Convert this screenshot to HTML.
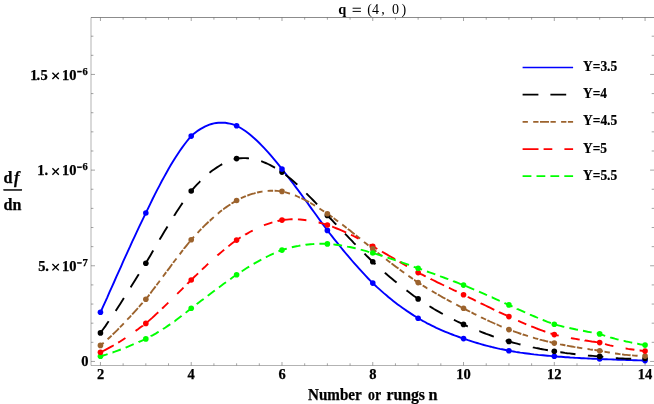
<!DOCTYPE html>
<html><head><meta charset="utf-8"><title>chart</title>
<style>html,body{margin:0;padding:0;background:#fff;width:654px;height:404px;overflow:hidden;font-family:"Liberation Serif",serif}</style></head>
<body>
<svg width="654" height="404" viewBox="0 0 654 404" style="position:absolute;left:0;top:0;will-change:transform">
<rect width="654" height="404" fill="#fff"/>
<g stroke="#666" fill="none">
<path d="M91.0,17.5 H654.6" stroke-width="0.75"/><path d="M91.0,365.5 H654.6 M91.0,17.5 V365.5 M654.6,17.5 V365.5" stroke-width="0.5"/>
<path d="M100.45,365.5 v-3.5 M100.45,17.5 v3.5 M123.14,365.5 v-2.2 M123.14,17.5 v2.2 M145.84,365.5 v-2.2 M145.84,17.5 v2.2 M168.53,365.5 v-2.2 M168.53,17.5 v2.2 M191.22,365.5 v-3.5 M191.22,17.5 v3.5 M213.91,365.5 v-2.2 M213.91,17.5 v2.2 M236.61,365.5 v-2.2 M236.61,17.5 v2.2 M259.30,365.5 v-2.2 M259.30,17.5 v2.2 M281.99,365.5 v-3.5 M281.99,17.5 v3.5 M304.68,365.5 v-2.2 M304.68,17.5 v2.2 M327.38,365.5 v-2.2 M327.38,17.5 v2.2 M350.07,365.5 v-2.2 M350.07,17.5 v2.2 M372.76,365.5 v-3.5 M372.76,17.5 v3.5 M395.45,365.5 v-2.2 M395.45,17.5 v2.2 M418.14,365.5 v-2.2 M418.14,17.5 v2.2 M440.84,365.5 v-2.2 M440.84,17.5 v2.2 M463.53,365.5 v-3.5 M463.53,17.5 v3.5 M486.22,365.5 v-2.2 M486.22,17.5 v2.2 M508.91,365.5 v-2.2 M508.91,17.5 v2.2 M531.61,365.5 v-2.2 M531.61,17.5 v2.2 M554.30,365.5 v-3.5 M554.30,17.5 v3.5 M576.99,365.5 v-2.2 M576.99,17.5 v2.2 M599.68,365.5 v-2.2 M599.68,17.5 v2.2 M622.38,365.5 v-2.2 M622.38,17.5 v2.2 M645.07,365.5 v-3.5 M645.07,17.5 v3.5 M91.0,361.45 h4 M654.6,361.45 h-4.5 M91.0,342.32 h2.4 M654.6,342.32 h-2.9 M91.0,323.18 h2.4 M654.6,323.18 h-2.9 M91.0,304.05 h2.4 M654.6,304.05 h-2.9 M91.0,284.92 h2.4 M654.6,284.92 h-2.9 M91.0,265.78 h4 M654.6,265.78 h-4.5 M91.0,246.65 h2.4 M654.6,246.65 h-2.9 M91.0,227.52 h2.4 M654.6,227.52 h-2.9 M91.0,208.39 h2.4 M654.6,208.39 h-2.9 M91.0,189.25 h2.4 M654.6,189.25 h-2.9 M91.0,170.12 h4 M654.6,170.12 h-4.5 M91.0,150.99 h2.4 M654.6,150.99 h-2.9 M91.0,131.85 h2.4 M654.6,131.85 h-2.9 M91.0,112.72 h2.4 M654.6,112.72 h-2.9 M91.0,93.59 h2.4 M654.6,93.59 h-2.9 M91.0,74.45 h4 M654.6,74.45 h-4.5 M91.0,55.32 h2.4 M654.6,55.32 h-2.9 M91.0,36.19 h2.4 M654.6,36.19 h-2.9" stroke-width="0.6"/>
</g>
<g fill="none" stroke-width="1.9">
<path d="M100.5,312.3 L102.7,307.3 L105.0,302.3 L107.3,297.3 L109.5,292.2 L111.8,287.1 L114.1,282.0 L116.3,276.9 L118.6,271.9 L120.9,266.8 L123.1,261.7 L125.4,256.7 L127.7,251.6 L130.0,246.7 L132.2,241.7 L134.5,236.8 L136.8,231.9 L139.0,227.1 L141.3,222.3 L143.6,217.6 L145.8,213.0 L148.1,208.3 L150.4,203.6 L152.6,199.0 L154.9,194.4 L157.2,189.9 L159.5,185.6 L161.7,181.3 L164.0,177.1 L166.3,173.0 L168.5,169.0 L170.8,165.1 L173.1,161.3 L175.3,157.7 L177.6,154.2 L179.9,150.8 L182.1,147.6 L184.4,144.5 L186.7,141.5 L189.0,138.7 L191.2,136.1 L193.5,134.1 L195.8,132.3 L198.0,130.6 L200.3,129.1 L202.6,127.8 L204.8,126.6 L207.1,125.6 L209.4,124.7 L211.6,124.0 L213.9,123.4 L216.2,123.0 L218.5,122.8 L220.7,122.6 L223.0,122.7 L225.3,122.8 L227.5,123.2 L229.8,123.6 L232.1,124.2 L234.3,124.9 L236.6,125.8 L238.9,127.0 L241.1,128.3 L243.4,129.7 L245.7,131.3 L248.0,133.0 L250.2,134.8 L252.5,136.7 L254.8,138.7 L257.0,140.8 L259.3,143.0 L261.6,145.3 L263.8,147.6 L266.1,150.1 L268.4,152.6 L270.6,155.2 L272.9,157.9 L275.2,160.6 L277.5,163.4 L279.7,166.2 L282.0,169.1 L284.3,172.0 L286.5,174.9 L288.8,177.8 L291.1,180.8 L293.3,183.8 L295.6,186.8 L297.9,189.9 L300.1,192.9 L302.4,196.0 L304.7,199.2 L307.0,202.3 L309.2,205.4 L311.5,208.6 L313.8,211.7 L316.0,214.8 L318.3,218.0 L320.6,221.1 L322.8,224.2 L325.1,227.3 L327.4,230.4 L329.6,233.3 L331.9,236.2 L334.2,239.1 L336.5,241.9 L338.7,244.7 L341.0,247.5 L343.3,250.3 L345.5,253.0 L347.8,255.7 L350.1,258.4 L352.3,261.0 L354.6,263.6 L356.9,266.2 L359.1,268.7 L361.4,271.2 L363.7,273.7 L366.0,276.1 L368.2,278.5 L370.5,280.8 L372.8,283.1 L375.0,285.2 L377.3,287.4 L379.6,289.4 L381.8,291.4 L384.1,293.4 L386.4,295.3 L388.6,297.2 L390.9,299.1 L393.2,300.9 L395.5,302.7 L397.7,304.4 L400.0,306.1 L402.3,307.7 L404.5,309.3 L406.8,310.9 L409.1,312.4 L411.3,313.9 L413.6,315.4 L415.9,316.8 L418.1,318.2 L420.4,319.5 L422.7,320.8 L425.0,322.0 L427.2,323.3 L429.5,324.4 L431.8,325.6 L434.0,326.7 L436.3,327.8 L438.6,328.8 L440.8,329.8 L443.1,330.8 L445.4,331.8 L447.6,332.7 L449.9,333.6 L452.2,334.5 L454.5,335.4 L456.7,336.2 L459.0,337.0 L461.3,337.8 L463.5,338.6 L465.8,339.4 L468.1,340.2 L470.3,340.9 L472.6,341.6 L474.9,342.3 L477.1,343.0 L479.4,343.7 L481.7,344.3 L484.0,345.0 L486.2,345.6 L488.5,346.2 L490.8,346.7 L493.0,347.3 L495.3,347.8 L497.6,348.4 L499.8,348.9 L502.1,349.3 L504.4,349.8 L506.6,350.3 L508.9,350.7 L511.2,351.1 L513.5,351.5 L515.7,351.9 L518.0,352.2 L520.3,352.6 L522.5,352.9 L524.8,353.2 L527.1,353.5 L529.3,353.8 L531.6,354.1 L533.9,354.4 L536.1,354.6 L538.4,354.9 L540.7,355.1 L543.0,355.3 L545.2,355.5 L547.5,355.7 L549.8,355.9 L552.0,356.1 L554.3,356.3 L556.6,356.5 L558.8,356.7 L561.1,356.8 L563.4,357.0 L565.6,357.2 L567.9,357.3 L570.2,357.5 L572.5,357.6 L574.7,357.8 L577.0,357.9 L579.3,358.0 L581.5,358.2 L583.8,358.3 L586.1,358.4 L588.3,358.5 L590.6,358.6 L592.9,358.7 L595.1,358.8 L597.4,358.9 L599.7,359.0 L602.0,359.1 L604.2,359.2 L606.5,359.3 L608.8,359.4 L611.0,359.4 L613.3,359.5 L615.6,359.6 L617.8,359.7 L620.1,359.7 L622.4,359.8 L624.6,359.9 L626.9,360.0 L629.2,360.1 L631.5,360.1 L633.7,360.2 L636.0,360.3 L638.3,360.4 L640.5,360.4 L642.8,360.5 L645.1,360.6" stroke="#0000ff"/>
<path d="M100.5,332.9 L100.8,332.4 L103.1,329.3 L105.4,326.1 L107.6,322.8 L108.7,321.3 M115.6,310.9 L116.0,310.4 L118.2,306.9 L120.5,303.4 L122.8,299.8 L123.9,297.9 M130.6,287.3 L130.7,287.2 L133.0,283.6 L135.2,280.0 L137.5,276.3 L138.8,274.3 M145.5,263.7 L145.8,263.2 L148.1,259.3 L150.4,255.4 L152.6,251.5 L153.3,250.4 M159.6,239.6 L159.8,239.2 L162.1,235.4 L164.4,231.6 L166.6,227.9 L167.5,226.4 M174.2,215.8 L174.2,215.7 L176.5,212.1 L178.7,208.7 L181.0,205.3 L182.6,202.9 M189.9,192.7 L190.1,192.5 L192.4,189.7 L194.6,187.1 L196.9,184.6 L199.2,182.3 L200.2,181.2 M209.5,172.8 L209.8,172.6 L212.0,170.8 L214.3,169.2 L216.6,167.6 L218.8,166.2 L221.1,164.8 L222.2,164.2 M233.7,159.4 L234.0,159.3 L236.2,158.7 L238.5,158.4 L240.8,158.2 L243.0,158.1 L245.3,158.1 L247.6,158.3 L249.0,158.4 M261.2,161.2 L261.2,161.2 L263.5,162.1 L265.7,163.0 L268.0,164.0 L270.3,165.1 L272.5,166.3 L274.8,167.6 L275.1,167.7 M285.5,174.7 L285.8,174.9 L288.0,176.7 L290.3,178.6 L292.6,180.5 L294.8,182.5 L297.1,184.5 L297.3,184.7 M306.3,193.3 L306.6,193.6 L308.8,195.8 L311.1,198.1 L313.4,200.5 L315.7,202.8 L317.1,204.3 M325.6,213.5 L325.9,213.8 L328.1,216.2 L330.4,218.5 L332.7,220.9 L334.9,223.3 L336.3,224.6 M344.9,233.7 L345.2,233.9 L347.4,236.2 L349.7,238.6 L352.0,240.9 L354.2,243.3 L355.6,244.7 M364.5,253.6 L364.8,254.0 L367.1,256.3 L369.4,258.5 L371.6,260.7 L373.9,262.9 L375.5,264.3 M384.9,272.7 L385.2,273.0 L387.5,275.0 L389.8,276.9 L392.0,278.8 L394.3,280.7 L396.6,282.6 L396.6,282.6 M406.5,290.4 L406.8,290.6 L409.1,292.3 L411.3,294.0 L413.6,295.7 L415.9,297.3 L418.1,298.9 L418.9,299.4 M429.5,306.2 L429.5,306.2 L431.8,307.6 L434.0,309.0 L436.3,310.3 L438.6,311.6 L440.8,312.9 L442.8,314.0 M453.9,319.8 L454.1,319.9 L456.3,321.0 L458.6,322.1 L460.9,323.2 L463.2,324.2 L465.4,325.3 L467.7,326.3 L467.8,326.3 M479.3,331.2 L479.4,331.2 L481.7,332.1 L484.0,333.0 L486.2,333.9 L488.5,334.7 L490.8,335.5 L493.0,336.3 L493.8,336.6 M505.7,340.4 L505.9,340.5 L508.2,341.2 L510.4,341.8 L512.7,342.5 L515.0,343.1 L517.2,343.7 L519.5,344.3 L520.5,344.5 M532.8,347.3 L533.1,347.4 L535.4,347.9 L537.7,348.3 L539.9,348.8 L542.2,349.2 L544.5,349.6 L546.7,350.0 L547.9,350.2 M560.3,352.2 L560.4,352.2 L562.6,352.5 L564.9,352.9 L567.2,353.2 L569.4,353.4 L571.7,353.7 L574.0,354.0 L575.5,354.2 M588.0,355.4 L588.3,355.5 L590.6,355.7 L592.9,355.9 L595.1,356.1 L597.4,356.2 L599.7,356.4 L602.0,356.7 L603.3,356.9 M615.8,358.1 L615.9,358.1 L618.2,358.3 L620.5,358.4 L622.8,358.5 L625.0,358.6 L627.3,358.7 L629.6,358.7 L631.2,358.7 M643.7,358.6 L643.9,358.5 L645.1,358.5" stroke="#000000"/>
<path d="M100.5,345.4 L100.8,345.1 L103.1,343.2 L103.7,342.7 M107.6,339.3 L107.6,339.3 L109.9,337.2 L111.6,335.6 M112.7,334.5 L112.9,334.3 L115.2,332.1 L117.5,329.9 L118.9,328.4 M120.0,327.3 L120.1,327.2 L122.4,324.8 L123.8,323.4 M127.3,319.6 L127.7,319.2 L130.0,316.8 L131.1,315.5 M132.1,314.4 L132.2,314.3 L134.5,311.8 L136.8,309.3 L137.9,308.0 M138.9,306.9 L139.0,306.8 L141.3,304.2 L142.6,302.8 M146.1,298.9 L146.2,298.7 L148.5,295.8 L149.4,294.6 M150.3,293.4 L150.4,293.3 L152.6,290.3 L154.9,287.3 L155.6,286.4 M156.5,285.2 L156.8,284.8 L159.1,281.8 L159.8,280.8 M162.9,276.6 L163.2,276.2 L165.5,273.1 L166.2,272.2 M167.1,271.0 L167.4,270.6 L169.7,267.6 L171.9,264.5 L172.3,264.1 M173.2,262.9 L173.4,262.5 L175.7,259.5 L176.5,258.5 M179.7,254.4 L179.9,254.1 L182.1,251.1 L183.0,250.0 M184.0,248.8 L184.0,248.7 L186.3,245.9 L188.6,243.0 L189.4,242.0 M190.3,240.9 L190.5,240.7 L192.7,238.1 L194.0,236.7 M197.5,232.9 L197.6,232.8 L199.9,230.4 L201.3,229.0 M202.4,227.9 L202.6,227.7 L204.8,225.4 L207.1,223.2 L208.6,221.8 M209.7,220.8 L209.8,220.8 L212.0,218.7 L213.8,217.1 M217.7,213.7 L218.1,213.5 L220.3,211.6 L222.0,210.3 M223.2,209.4 L223.4,209.3 L225.6,207.6 L227.9,206.0 L230.2,204.5 L230.3,204.4 M231.6,203.6 L231.7,203.5 L234.0,202.1 L236.2,200.7 L236.3,200.7 M240.9,198.3 L241.1,198.2 L243.4,197.2 L245.7,196.2 L245.9,196.1 M247.3,195.6 L247.6,195.5 L249.8,194.7 L252.1,193.9 L254.4,193.3 L255.6,192.9 M257.1,192.6 L257.4,192.5 L259.7,192.0 L261.9,191.6 L262.5,191.5 M267.6,190.9 L268.0,190.9 L270.3,190.8 L272.5,190.7 L273.1,190.7 M274.6,190.8 L274.8,190.8 L277.1,190.9 L279.3,191.1 L281.6,191.3 L283.3,191.7 M284.7,192.0 L285.0,192.1 L287.3,192.8 L289.6,193.5 L290.0,193.6 M294.9,195.4 L295.2,195.5 L297.5,196.5 L299.8,197.5 L299.9,197.5 M301.3,198.2 L301.7,198.3 L303.9,199.5 L306.2,200.6 L308.5,201.8 L309.0,202.2 M310.3,202.9 L310.4,202.9 L312.6,204.2 L314.9,205.6 L315.1,205.7 M319.5,208.5 L319.8,208.7 L322.1,210.2 L324.1,211.5 M325.3,212.4 L325.5,212.5 L327.8,214.1 L330.0,215.6 L332.3,217.2 L332.4,217.3 M333.6,218.2 L333.8,218.3 L336.1,220.0 L338.1,221.5 M342.2,224.6 L342.5,224.8 L344.8,226.5 L346.6,227.9 M347.8,228.9 L347.8,228.9 L350.1,230.6 L352.3,232.4 L354.6,234.2 L354.6,234.2 M355.8,235.2 L356.1,235.4 L358.4,237.3 L360.1,238.6 M364.1,241.9 L364.4,242.2 L366.7,244.0 L368.4,245.4 M369.6,246.3 L369.7,246.4 L372.0,248.3 L374.3,250.1 L376.4,251.7 M377.6,252.6 L377.7,252.7 L379.9,254.5 L381.9,256.0 M386.0,259.2 L386.4,259.5 L388.6,261.2 L390.4,262.5 M391.6,263.4 L391.7,263.5 L393.9,265.2 L396.2,266.9 L398.5,268.6 L398.5,268.6 M399.8,269.5 L400.0,269.7 L402.3,271.4 L404.2,272.8 M408.4,275.8 L408.7,276.0 L411.0,277.6 L412.9,279.0 M414.1,279.9 L414.4,280.0 L416.6,281.6 L418.9,283.1 L421.2,284.5 L421.4,284.7 M422.7,285.5 L422.7,285.5 L425.0,286.9 L427.2,288.3 L427.3,288.3 M431.8,291.0 L432.1,291.2 L434.4,292.5 L436.6,293.8 M437.9,294.5 L438.2,294.7 L440.5,296.0 L442.7,297.3 L445.0,298.5 L445.4,298.8 M446.8,299.5 L446.9,299.6 L449.2,300.8 L451.4,302.0 L451.6,302.1 M456.2,304.5 L456.3,304.6 L458.6,305.8 L460.9,307.0 L461.1,307.1 M462.4,307.7 L462.8,307.9 L465.0,309.1 L467.3,310.3 L469.6,311.5 L470.1,311.8 M471.5,312.4 L471.9,312.6 L474.1,313.8 L476.4,314.9 M481.0,317.2 L481.3,317.4 L483.6,318.5 L485.8,319.5 L486.0,319.6 M487.4,320.2 L487.7,320.4 L490.0,321.5 L492.3,322.5 L494.5,323.5 L495.3,323.9 M496.6,324.5 L496.8,324.5 L499.1,325.5 L501.4,326.5 L501.7,326.6 M506.5,328.6 L506.6,328.7 L508.9,329.6 L511.2,330.4 L511.6,330.6 M513.0,331.1 L513.1,331.1 L515.3,331.9 L517.6,332.7 L519.9,333.5 L521.3,334.0 M522.7,334.4 L522.9,334.5 L525.2,335.2 L527.4,335.9 L527.9,336.1 M532.9,337.6 L533.1,337.6 L535.4,338.3 L537.7,338.9 L538.2,339.1 M539.7,339.5 L539.9,339.6 L542.2,340.2 L544.5,340.7 L546.7,341.3 L548.1,341.6 M549.5,342.0 L549.8,342.0 L552.0,342.6 L554.3,343.1 L554.9,343.2 M560.0,344.3 L560.4,344.4 L562.6,344.8 L564.9,345.3 L565.4,345.4 M566.9,345.6 L567.2,345.7 L569.4,346.1 L571.7,346.5 L574.0,346.9 L575.4,347.1 M576.9,347.4 L577.0,347.4 L579.3,347.8 L581.5,348.1 L582.3,348.3 M587.5,349.0 L587.6,349.0 L589.9,349.4 L592.1,349.7 L592.9,349.8 M594.4,350.0 L594.8,350.0 L597.0,350.4 L599.3,350.7 L601.6,351.1 L603.0,351.4 M604.5,351.7 L604.6,351.7 L606.9,352.1 L609.1,352.5 L609.9,352.7 M615.0,353.5 L615.2,353.5 L617.5,353.8 L619.7,354.1 L620.5,354.2 M622.0,354.4 L622.0,354.4 L624.3,354.7 L626.5,354.9 L628.8,355.1 L630.6,355.3 M632.1,355.4 L632.2,355.4 L634.5,355.6 L636.7,355.7 L637.6,355.8 M642.8,356.0 L642.8,356.0 L645.1,356.1" stroke="#9c632d"/>
<path d="M100.5,352.2 L100.8,352.0 L103.1,351.0 L105.4,349.8 L107.6,348.7 L109.9,347.4 L112.2,346.2 L113.7,345.3 M118.2,342.6 L118.2,342.6 L120.5,341.2 L122.8,339.7 L125.0,338.2 L125.4,337.9 M135.6,330.9 L136.0,330.6 L138.3,329.0 L140.5,327.3 L142.8,325.7 L142.8,325.6 M147.0,322.4 L147.3,322.1 L149.6,320.1 L151.9,318.1 L154.2,316.0 L156.4,313.9 L158.3,312.2 M162.1,308.6 L162.5,308.2 L164.7,306.1 L167.0,303.9 L168.3,302.6 M177.2,293.9 L177.2,293.9 L179.5,291.6 L181.8,289.4 L183.5,287.6 M187.3,283.9 L187.4,283.7 L189.7,281.5 L192.0,279.3 L194.2,277.0 L196.5,274.9 L198.1,273.3 M202.0,269.6 L202.2,269.4 L204.5,267.3 L206.7,265.1 L208.2,263.7 M217.5,255.5 L217.7,255.2 L220.0,253.3 L222.2,251.4 L224.2,249.7 M228.4,246.4 L228.7,246.1 L230.9,244.3 L233.2,242.6 L235.5,240.9 L237.7,239.3 L240.0,237.8 L240.7,237.4 M245.2,234.7 L245.3,234.6 L247.6,233.3 L249.8,232.0 L252.1,230.8 L252.7,230.5 M264.0,225.3 L264.2,225.2 L266.5,224.4 L268.8,223.6 L271.0,222.8 L272.4,222.4 M277.5,221.1 L277.8,221.0 L280.1,220.5 L282.4,220.0 L284.6,219.8 L286.9,219.6 L289.2,219.4 L291.4,219.3 L292.6,219.3 M297.9,219.4 L297.9,219.4 L300.1,219.5 L302.4,219.7 L304.7,220.0 L306.4,220.2 M318.6,222.5 L318.7,222.5 L320.9,223.1 L323.2,223.7 L325.5,224.4 L327.2,224.9 M332.2,226.7 L332.3,226.7 L334.6,227.6 L336.8,228.5 L339.1,229.4 L341.4,230.4 L343.6,231.4 L345.9,232.4 L346.2,232.5 M351.0,234.8 L351.2,234.9 L353.5,236.0 L355.7,237.2 L358.0,238.4 L358.6,238.7 M369.5,244.6 L369.7,244.7 L372.0,246.0 L374.3,247.2 L376.5,248.5 L377.3,249.0 M381.9,251.6 L382.2,251.8 L384.5,253.1 L386.8,254.4 L389.0,255.7 L391.3,257.0 L393.6,258.3 L395.0,259.2 M399.6,261.9 L400.0,262.1 L402.3,263.4 L404.5,264.8 L406.8,266.1 L407.0,266.2 M417.8,272.4 L418.1,272.6 L420.4,273.8 L422.7,274.9 L425.0,276.1 L425.7,276.5 M430.5,278.8 L430.6,278.9 L432.9,280.0 L435.2,281.2 L437.4,282.3 L439.7,283.4 L442.0,284.5 L444.1,285.5 M448.9,287.8 L449.2,287.9 L451.4,289.0 L453.7,290.1 L456.0,291.1 L456.7,291.5 M467.8,296.8 L468.1,297.0 L470.3,298.1 L472.6,299.2 L474.9,300.3 L475.8,300.8 M480.6,303.1 L480.9,303.3 L483.2,304.4 L485.5,305.5 L487.7,306.6 L490.0,307.7 L492.3,308.8 L494.3,309.8 M499.0,312.0 L499.1,312.1 L501.4,313.1 L503.6,314.2 L505.9,315.2 L506.8,315.7 M518.1,320.8 L518.4,320.9 L520.6,321.9 L522.9,322.8 L525.2,323.8 L526.3,324.3 M531.2,326.3 L531.2,326.3 L533.5,327.2 L535.8,328.1 L538.0,329.0 L540.3,329.8 L542.6,330.7 L544.8,331.5 L545.4,331.7 M550.5,333.4 L550.5,333.4 L552.8,334.1 L555.1,334.8 L557.3,335.3 L558.7,335.7 M570.9,338.1 L570.9,338.1 L573.2,338.5 L575.5,338.9 L577.7,339.3 L579.7,339.6 M584.9,340.4 L584.9,340.5 L587.2,340.8 L589.5,341.1 L591.7,341.5 L594.0,341.8 L596.3,342.1 L598.6,342.4 L599.9,342.7 M605.0,344.1 L605.4,344.2 L607.6,344.8 L609.9,345.4 L612.2,345.9 L613.4,346.2 M625.6,348.5 L625.8,348.5 L628.1,348.9 L630.3,349.2 L632.6,349.5 L634.4,349.8 M639.6,350.5 L639.8,350.5 L642.0,350.8 L644.3,351.0 L645.1,351.1" stroke="#ff0000"/>
<path d="M100.5,356.2 L100.8,356.1 L103.1,355.5 L105.4,354.8 L107.6,354.1 L107.6,354.1 M112.5,352.5 L112.6,352.5 L114.8,351.7 L117.1,350.8 L119.4,350.0 L120.8,349.5 M125.6,347.6 L125.8,347.5 L128.1,346.6 L130.3,345.7 L132.6,344.7 L133.7,344.2 M138.5,342.2 L138.6,342.1 L140.9,341.1 L143.2,340.1 L145.5,339.1 L146.5,338.6 M151.1,336.2 L151.1,336.1 L153.4,334.9 L155.7,333.6 L157.9,332.2 L158.7,331.8 M163.0,329.1 L163.2,328.9 L165.5,327.5 L167.8,325.9 L170.0,324.4 L170.3,324.2 M174.5,321.2 L174.6,321.2 L176.8,319.5 L179.1,317.8 L181.4,316.1 L181.6,315.9 M185.7,312.8 L185.9,312.6 L188.2,310.7 L190.5,308.9 L192.6,307.3 M196.7,304.2 L196.9,304.0 L199.2,302.3 L201.4,300.6 L203.7,298.9 M207.8,295.8 L207.9,295.7 L210.1,294.0 L212.4,292.3 L214.7,290.6 L214.8,290.5 M218.9,287.4 L219.2,287.2 L221.5,285.5 L223.7,283.8 L226.0,282.2 L226.0,282.2 M230.2,279.2 L230.6,278.9 L232.8,277.3 L235.1,275.7 L237.4,274.2 L237.4,274.1 M241.7,271.3 L241.9,271.2 L244.2,269.7 L246.4,268.3 L248.7,266.9 L249.2,266.6 M253.6,263.9 L253.6,263.9 L255.9,262.6 L258.2,261.3 L260.4,260.1 L261.3,259.6 M265.8,257.2 L266.1,257.1 L268.4,256.0 L270.6,254.9 L272.9,253.8 L273.8,253.5 M278.5,251.5 L278.6,251.4 L280.9,250.5 L283.1,249.7 L285.4,249.0 L286.8,248.6 M291.8,247.3 L291.8,247.3 L294.1,246.8 L296.4,246.3 L298.6,245.9 L300.4,245.5 M305.5,244.8 L305.8,244.7 L308.1,244.5 L310.4,244.3 L312.6,244.1 L314.3,244.0 M319.4,243.8 L319.4,243.8 L321.7,243.8 L324.0,243.8 L326.2,243.9 L328.2,244.0 M333.4,244.4 L333.4,244.4 L335.7,244.7 L338.0,245.0 L340.2,245.3 L342.1,245.6 M347.1,246.5 L347.4,246.6 L349.7,247.0 L352.0,247.5 L354.2,248.0 L355.7,248.4 M360.7,249.6 L361.0,249.7 L363.3,250.3 L365.6,250.9 L367.8,251.6 L369.2,252.0 M374.2,253.4 L374.3,253.4 L376.5,254.1 L378.8,254.8 L381.1,255.5 L382.6,255.9 M387.5,257.5 L387.5,257.5 L389.8,258.3 L392.0,259.0 L394.3,259.8 L395.8,260.3 M400.7,262.0 L400.7,262.0 L403.0,262.8 L405.3,263.6 L407.6,264.4 L409.0,264.9 M413.8,266.7 L414.0,266.8 L416.3,267.6 L418.5,268.4 L420.8,269.2 L422.1,269.7 M427.0,271.4 L427.2,271.5 L429.5,272.3 L431.8,273.1 L434.0,273.9 L435.3,274.4 M440.1,276.1 L440.5,276.3 L442.7,277.1 L445.0,278.0 L447.3,278.8 L448.3,279.2 M453.2,281.0 L453.3,281.1 L455.6,282.0 L457.9,282.9 L460.1,283.8 L461.4,284.2 M466.1,286.2 L466.2,286.2 L468.4,287.2 L470.7,288.1 L473.0,289.1 L474.2,289.6 M479.0,291.7 L479.0,291.7 L481.3,292.7 L483.6,293.7 L485.8,294.7 L487.0,295.2 M491.7,297.3 L491.9,297.3 L494.2,298.3 L496.4,299.4 L498.7,300.4 L499.8,300.8 M504.5,302.9 L504.8,303.1 L507.0,304.1 L509.3,305.1 L511.6,306.1 L512.5,306.6 M517.2,308.7 L517.2,308.8 L519.5,309.8 L521.8,310.8 L524.0,311.9 L525.2,312.4 M529.9,314.5 L530.1,314.6 L532.4,315.6 L534.6,316.5 L536.9,317.5 L538.0,318.0 M542.7,319.9 L543.0,320.0 L545.2,320.9 L547.5,321.8 L549.8,322.6 L550.9,323.1 M555.8,324.7 L555.8,324.7 L558.1,325.3 L560.4,325.9 L562.6,326.5 L564.3,326.9 M569.4,328.0 L569.4,328.0 L571.7,328.5 L574.0,329.0 L576.2,329.5 L578.0,329.8 M583.0,330.8 L583.0,330.8 L585.3,331.2 L587.6,331.7 L589.9,332.1 L591.7,332.4 M596.7,333.4 L597.0,333.4 L599.3,333.8 L601.6,334.6 L603.8,335.4 L605.2,335.8 M610.1,337.3 L610.3,337.4 L612.5,338.0 L614.8,338.7 L617.1,339.3 L618.6,339.7 M623.6,340.9 L623.9,340.9 L626.2,341.5 L628.4,341.9 L630.7,342.4 L632.2,342.7 M637.2,343.7 L637.5,343.7 L639.8,344.2 L642.0,344.6 L644.3,345.0 L645.1,345.1" stroke="#00ff00"/>
</g>
<g><circle cx="100.45" cy="356.2" r="2.8" fill="#00ff00"/><circle cx="100.45" cy="352.2" r="2.8" fill="#ff0000"/><circle cx="100.45" cy="345.4" r="2.8" fill="#9c632d"/><circle cx="100.45" cy="332.9" r="2.8" fill="#000000"/><circle cx="100.45" cy="312.3" r="2.8" fill="#0000ff"/><circle cx="145.84" cy="338.9" r="2.8" fill="#00ff00"/><circle cx="145.84" cy="323.4" r="2.8" fill="#ff0000"/><circle cx="145.84" cy="299.2" r="2.8" fill="#9c632d"/><circle cx="145.84" cy="263.2" r="2.8" fill="#000000"/><circle cx="145.84" cy="213.0" r="2.8" fill="#0000ff"/><circle cx="191.22" cy="308.3" r="2.8" fill="#00ff00"/><circle cx="191.22" cy="280.0" r="2.8" fill="#ff0000"/><circle cx="191.22" cy="239.8" r="2.8" fill="#9c632d"/><circle cx="191.22" cy="191.0" r="2.8" fill="#000000"/><circle cx="191.22" cy="136.1" r="2.8" fill="#0000ff"/><circle cx="236.61" cy="274.7" r="2.8" fill="#00ff00"/><circle cx="236.61" cy="240.1" r="2.8" fill="#ff0000"/><circle cx="236.61" cy="200.5" r="2.8" fill="#9c632d"/><circle cx="236.61" cy="158.6" r="2.8" fill="#000000"/><circle cx="236.61" cy="125.8" r="2.8" fill="#0000ff"/><circle cx="281.99" cy="250.1" r="2.8" fill="#00ff00"/><circle cx="281.99" cy="220.1" r="2.8" fill="#ff0000"/><circle cx="281.99" cy="191.4" r="2.8" fill="#9c632d"/><circle cx="281.99" cy="172.1" r="2.8" fill="#000000"/><circle cx="281.99" cy="169.1" r="2.8" fill="#0000ff"/><circle cx="327.38" cy="243.9" r="2.8" fill="#00ff00"/><circle cx="327.38" cy="230.4" r="2.8" fill="#0000ff"/><circle cx="327.38" cy="225.0" r="2.8" fill="#ff0000"/><circle cx="327.38" cy="215.4" r="2.8" fill="#000000"/><circle cx="327.38" cy="213.8" r="2.8" fill="#9c632d"/><circle cx="372.76" cy="283.1" r="2.8" fill="#0000ff"/><circle cx="372.76" cy="261.8" r="2.8" fill="#000000"/><circle cx="372.76" cy="246.4" r="2.8" fill="#ff0000"/><circle cx="372.76" cy="248.9" r="2.8" fill="#9c632d"/><circle cx="372.76" cy="253.0" r="2.8" fill="#00ff00"/><circle cx="418.14" cy="318.2" r="2.8" fill="#0000ff"/><circle cx="418.14" cy="298.9" r="2.8" fill="#000000"/><circle cx="418.14" cy="282.6" r="2.8" fill="#9c632d"/><circle cx="418.14" cy="272.6" r="2.8" fill="#ff0000"/><circle cx="418.14" cy="268.3" r="2.8" fill="#00ff00"/><circle cx="463.53" cy="338.6" r="2.8" fill="#0000ff"/><circle cx="463.53" cy="324.4" r="2.8" fill="#000000"/><circle cx="463.53" cy="308.3" r="2.8" fill="#9c632d"/><circle cx="463.53" cy="294.7" r="2.8" fill="#ff0000"/><circle cx="463.53" cy="285.1" r="2.8" fill="#00ff00"/><circle cx="508.91" cy="350.7" r="2.8" fill="#0000ff"/><circle cx="508.91" cy="341.4" r="2.8" fill="#000000"/><circle cx="508.91" cy="329.6" r="2.8" fill="#9c632d"/><circle cx="508.91" cy="316.6" r="2.8" fill="#ff0000"/><circle cx="508.91" cy="304.9" r="2.8" fill="#00ff00"/><circle cx="554.30" cy="356.3" r="2.8" fill="#0000ff"/><circle cx="554.30" cy="351.3" r="2.8" fill="#000000"/><circle cx="554.30" cy="343.1" r="2.8" fill="#9c632d"/><circle cx="554.30" cy="334.6" r="2.8" fill="#ff0000"/><circle cx="554.30" cy="324.3" r="2.8" fill="#00ff00"/><circle cx="599.68" cy="359.0" r="2.8" fill="#0000ff"/><circle cx="599.68" cy="356.4" r="2.8" fill="#000000"/><circle cx="599.68" cy="350.7" r="2.8" fill="#9c632d"/><circle cx="599.68" cy="342.6" r="2.8" fill="#ff0000"/><circle cx="599.68" cy="333.9" r="2.8" fill="#00ff00"/><circle cx="645.07" cy="360.6" r="2.8" fill="#0000ff"/><circle cx="645.07" cy="358.5" r="2.8" fill="#000000"/><circle cx="645.07" cy="356.1" r="2.8" fill="#9c632d"/><circle cx="645.07" cy="351.1" r="2.8" fill="#ff0000"/><circle cx="645.07" cy="345.1" r="2.8" fill="#00ff00"/></g>
<path d="M522.6,67.5 H573.1" fill="none" stroke="#0000ff" stroke-width="1.7"/>
<path d="M522.6,94.6 H573.1" fill="none" stroke="#000000" stroke-width="1.7" stroke-dasharray="15.8 12"/>
<path d="M522.6,121.8 H573.1" fill="none" stroke="#9c632d" stroke-width="1.7" stroke-dasharray="5.3 5.3 5.3 1.5 9 1.5"/>
<path d="M522.6,149.1 H573.1" fill="none" stroke="#ff0000" stroke-width="1.7" stroke-dasharray="15.9 5.1 8.7 12.1 8.7 5.1"/>
<path d="M522.6,176.1 H573.1" fill="none" stroke="#00ff00" stroke-width="1.7" stroke-dasharray="8.8 5.1"/>
<g font-family="Liberation Serif" font-weight="bold" font-size="14.5" fill="#000" stroke="#000" stroke-width="0.2">
<text x="583.0" y="71.1" textLength="34.2" lengthAdjust="spacingAndGlyphs">Y=3.5</text>
<text x="583.0" y="98.2" textLength="24.0" lengthAdjust="spacingAndGlyphs">Y=4</text>
<text x="583.0" y="125.4" textLength="34.2" lengthAdjust="spacingAndGlyphs">Y=4.5</text>
<text x="583.0" y="152.7" textLength="24.0" lengthAdjust="spacingAndGlyphs">Y=5</text>
<text x="583.0" y="179.7" textLength="34.2" lengthAdjust="spacingAndGlyphs">Y=5.5</text>
</g>
<g font-family="Liberation Serif" font-weight="bold" font-size="14.5" fill="#000" stroke="#000" stroke-width="0.25" text-anchor="middle">
<text x="100.5" y="378.6">2</text>
<text x="191.2" y="378.6">4</text>
<text x="282.0" y="378.6">6</text>
<text x="372.8" y="378.6">8</text>
<text x="463.5" y="378.6">10</text>
<text x="554.3" y="378.6">12</text>
<text x="645.1" y="378.6">14</text>
</g>
<g font-family="Liberation Serif" font-weight="bold" font-size="14.5" fill="#000" stroke="#000" stroke-width="0.25">
<text x="30.15" y="79.8">1</text>
<text x="36.45" y="79.8">.</text>
<text x="40.4" y="79.8">5</text>
<path d="M52.4,72.65 L58.800000000000004,79.05 M52.4,79.05 L58.800000000000004,72.65" stroke="#000" stroke-width="1.35" fill="none"/>
<text x="62.0" y="79.8">10</text>
<rect x="77.3" y="70.95" width="4.4" height="1.3"/>
<text x="82.4" y="74.5" font-size="10.5">6</text>
<text x="37.3" y="175.4">1</text>
<text x="44.5" y="175.4">.</text>
<path d="M52.4,168.32 L58.800000000000004,174.72 M52.4,174.72 L58.800000000000004,168.32" stroke="#000" stroke-width="1.35" fill="none"/>
<text x="62.0" y="175.4">10</text>
<rect x="77.3" y="166.62" width="4.4" height="1.3"/>
<text x="82.4" y="170.1" font-size="10.5">6</text>
<text x="38.2" y="271.1">5</text>
<text x="45.35" y="271.1">.</text>
<path d="M52.4,263.99 L58.800000000000004,270.38 M52.4,270.38 L58.800000000000004,263.99" stroke="#000" stroke-width="1.35" fill="none"/>
<text x="62.0" y="271.1">10</text>
<rect x="77.3" y="262.28" width="4.4" height="1.3"/>
<text x="82.4" y="265.8" font-size="10.5">7</text>
<text x="88.4" y="366.4" text-anchor="end">0</text>
</g>
<g font-family="Liberation Serif" font-weight="bold" font-size="16" fill="#000" stroke="#000" stroke-width="0.25">
<text x="308.1" y="399.7" textLength="53.6" lengthAdjust="spacingAndGlyphs">Number</text>
<text x="368.0" y="399.7" textLength="13.0" lengthAdjust="spacingAndGlyphs">or</text>
<text x="386.4" y="399.7" textLength="38.6" lengthAdjust="spacingAndGlyphs">rungs</text>
<text x="428.5" y="399.7" textLength="9.0" lengthAdjust="spacingAndGlyphs">n</text>
</g>
<g font-family="Liberation Serif" font-weight="bold" font-size="16" fill="#000" stroke="#000" stroke-width="0.25">
<text x="3.5" y="182.9">d<tspan font-style="italic" dx="1.6">f</tspan></text>
<text x="3.5" y="209.8">dn</text>
<rect x="3.7" y="189.3" width="18.2" height="1.3"/>
</g>
<g font-family="Liberation Serif" font-size="14" fill="#000">
<text x="338.3" y="13.5" font-weight="bold" font-size="14.5">q</text>
<rect x="352.6" y="7.7" width="8.3" height="1.1" fill="#222"/><rect x="352.6" y="10.9" width="8.3" height="1.1" fill="#222"/>
<text x="367.2" y="13.5">(</text>
<text x="371.9" y="13.5">4</text>
<text x="381.3" y="13.5">,</text>
<text x="392" y="13.5">0</text>
<text x="401.6" y="13.5">)</text>
</g>
</svg>
</body></html>
